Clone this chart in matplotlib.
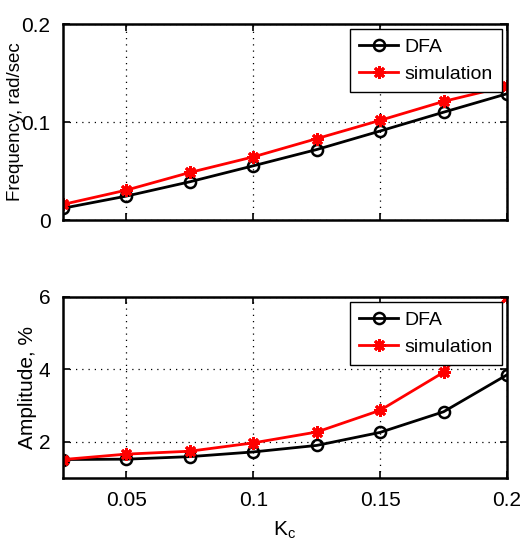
import matplotlib
matplotlib.use("Agg")
import matplotlib.pyplot as plt
from matplotlib import font_manager

# --- data ---
kc = [0.025, 0.05, 0.075, 0.1, 0.125, 0.15, 0.175, 0.2]
freq_dfa = [0.012, 0.0244, 0.039, 0.0553, 0.0719, 0.0908, 0.110, 0.1288]
freq_sim = [0.0159, 0.0305, 0.0485, 0.0644, 0.083, 0.1017, 0.121, 0.1366]
amp_dfa = [1.51, 1.52, 1.59, 1.72, 1.90, 2.26, 2.83, 3.85]
amp_sim = [1.51, 1.66, 1.74, 1.97, 2.27, 2.87, 3.92, 6.0]

x_ticks = [0.05, 0.1, 0.15, 0.2]
x_ticklabels = ["0.05", "0.1", "0.15", "0.2"]
freq_ticks = [0, 0.1, 0.2]
freq_ticklabels = ["0", "0.1", "0.2"]
amp_ticks = [2, 4, 6]
amp_ticklabels = ["2", "4", "6"]

names = {f.name for f in font_manager.fontManager.ttflist}
if "Liberation Sans Narrow" in names:
    fam = "Liberation Sans Narrow"
    fs = 16
else:
    fam = "Liberation Sans"
    fs = 15
plt.rcParams["font.family"] = [fam, "DejaVu Sans"]
plt.rcParams["mathtext.fontset"] = "custom"
plt.rcParams["mathtext.rm"] = fam
plt.rcParams["mathtext.it"] = fam

fig = plt.figure(figsize=(5.28, 5.52), dpi=100)
W, H = 528, 552
ax1 = fig.add_axes([63 / W, 1 - 220 / H, 444 / W, 196 / H])
ax2 = fig.add_axes([63 / W, 1 - 478 / H, 444 / W, 181 / H])

star = (8, 2, 0)


def style(ax):
    for s in ax.spines.values():
        s.set_linewidth(1.8)
    ax.tick_params(direction="in", length=5, width=1.2, top=True, right=True,
                   labelsize=fs, pad=9)
    ax.grid(True, linestyle=(0, (1, 4)), color="black", linewidth=0.9)
    ax.set_xlim(0.025, 0.2)
    ax.set_xticks(x_ticks)


def legend(ax):
    leg = ax.legend(loc="upper right", fontsize=fs - 1, fancybox=False,
                    framealpha=1, edgecolor="black", borderaxespad=0.25,
                    handlelength=2.0, handletextpad=0.3, borderpad=0.5,
                    labelspacing=0.45)
    leg.get_frame().set_linewidth(1.0)


# frequency panel
ax1.plot(kc, freq_dfa, color="black", lw=2, marker="o", ms=8, mfc="none",
         mew=1.8, label="DFA")
ax1.plot(kc, freq_sim, color="red", lw=2, marker=star, ms=9, mew=2,
         label="simulation")
style(ax1)
ax1.set_xticklabels([])
ax1.set_ylim(0, 0.2)
ax1.set_yticks(freq_ticks)
ax1.set_yticklabels(freq_ticklabels)
ax1.set_ylabel("Frequency, rad/sec", fontsize=fs - 1.5)
ax1.yaxis.set_label_coords(-0.088, 0.5)
legend(ax1)

# amplitude panel
ax2.plot(kc, amp_dfa, color="black", lw=2, marker="o", ms=8, mfc="none",
         mew=1.8, label="DFA")
ax2.plot(kc, amp_sim, color="red", lw=2, marker=star, ms=9, mew=2,
         label="simulation")
style(ax2)
ax2.set_xticklabels(x_ticklabels)
ax2.set_ylim(1, 6)
ax2.set_yticks(amp_ticks)
ax2.set_yticklabels(amp_ticklabels)
ax2.set_ylabel("Amplitude, %", fontsize=fs)
ax2.yaxis.set_label_coords(-0.058, 0.5)
ax2.set_xlabel(r"K$_\mathrm{c}$", fontsize=fs, labelpad=7)
legend(ax2)

fig.savefig("out.png", dpi=100)
